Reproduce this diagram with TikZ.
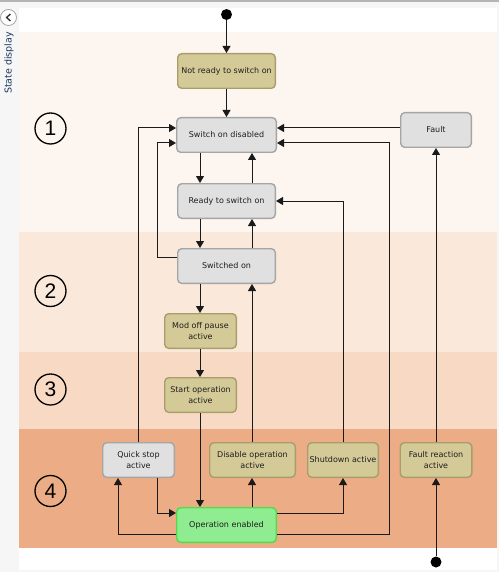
\documentclass[tikz,border=0pt]{standalone}
\usepackage{fontspec}
\setmainfont{DejaVu Sans}
\newfontfamily\digitfont{Liberation Sans}
\usetikzlibrary{arrows.meta,calc}
\definecolor{frameclr}{RGB}{246,246,246}
\definecolor{toplineclr}{RGB}{180,180,180}
\definecolor{zoneA}{RGB}{253,246,240}
\definecolor{zoneB}{RGB}{250,233,219}
\definecolor{zoneC}{RGB}{248,218,196}
\definecolor{zoneD}{RGB}{236,172,133}
\definecolor{grayfill}{RGB}{224,224,224}
\definecolor{grayedge}{RGB}{165,165,165}
\definecolor{khfill}{RGB}{212,202,152}
\definecolor{khedge}{RGB}{168,158,108}
\definecolor{grfill}{RGB}{144,236,144}
\definecolor{gredge}{RGB}{76,222,76}
\definecolor{txtclr}{RGB}{30,30,30}
\definecolor{lineclr}{RGB}{26,26,26}
\definecolor{navy}{RGB}{30,55,95}
\tikzset{
  statebox/.style={rounded corners=4pt, minimum height=34.6pt, inner sep=1pt,
    align=center, font=\fontsize{8}{11.3}\selectfont, text=txtclr, line width=1.4pt},
  graybox/.style={statebox, fill=grayfill, draw=grayedge},
  khakibox/.style={statebox, fill=khfill, draw=khedge},
  greenbox/.style={statebox, fill=grfill, draw=gredge},
  zonenum/.style={circle, draw=black, line width=1.3pt, minimum size=31pt, inner sep=0pt,
    font=\digitfont\fontsize{21}{21}\selectfont},
  blackdot/.style={circle, fill=black, minimum size=11pt, inner sep=0pt},
  arr/.style={draw=lineclr, line width=1pt, -{Triangle[length=7pt,width=8pt]}},
}
\begin{document}
\begin{tikzpicture}[x=1pt,y=-1pt]
\useasboundingbox (0,0) rectangle (499,572);
% frame and zones
\fill[frameclr] (0,0) rectangle (499,572);
\fill[toplineclr] (0,0) rectangle (499,2.5);
\fill[white] (19,8) rectangle (497,570);
\fill[zoneA] (19,32) rectangle (497,232);
\fill[zoneB] (19,232) rectangle (497,352);
\fill[zoneC] (19,352) rectangle (497,429);
\fill[zoneD] (19,429) rectangle (497,548);
% side panel
\node[circle, draw=grayedge, fill=white, line width=0.8pt, minimum size=16pt, inner sep=0pt] (back) at (8.5,17.5) {};
\draw[draw=black!80, line width=1.4pt] ([shift={(1.8,3.5)}]back.center) -- ([shift={(-1.8,0)}]back.center) -- ([shift={(1.8,-3.5)}]back.center);
\node[rotate=90, font=\fontsize{9.5}{10}\selectfont, text=navy, inner sep=0pt] (sd) at (9,63) {State display};
% zone numbers
\node[zonenum] (z1) at (50.5,128.5) {1};
\node[zonenum] (z2) at (50.5,291) {2};
\node[zonenum] (z3) at (50.5,389.5) {3};
\node[zonenum] (z4) at (50.5,491) {4};
% dots
\node[blackdot] (start) at (226.5,14.5) {};
\node[blackdot] (faultdot) at (436,562) {};
% states
\node[khakibox, minimum width=97.6pt] (nr) at (226.5,71) {Not ready to switch on};
\node[graybox, minimum width=99.6pt] (sod) at (226.5,135) {Switch on disabled};
\node[graybox, minimum width=97.6pt] (rtso) at (226.5,201) {Ready to switch on};
\node[graybox, minimum width=97.6pt] (so) at (226.5,266) {Switched on};
\node[khakibox, minimum width=71.6pt] (mop) at (200.5,331) {Mod off pause\\active};
\node[khakibox, minimum width=71.6pt] (soa) at (200.5,395) {Start operation\\active};
\node[graybox, minimum width=70.6pt] (fault) at (436,130) {Fault};
\node[graybox, minimum width=71.6pt] (qs) at (138.5,460) {Quick stop\\active};
\node[khakibox, minimum width=85.6pt] (doa) at (252.5,460) {Disable operation\\active};
\node[khakibox, minimum width=70.6pt] (sa) at (343,460) {Shutdown active};
\node[khakibox, minimum width=71.6pt] (fra) at (436,460) {Fault reaction\\active};
\node[greenbox, minimum width=99.6pt] (oe) at (226.5,525) {Operation enabled};
% helper coordinates
\coordinate (xa) at (200,0);
\coordinate (xb) at (252,0);
\coordinate (xqa) at (118,0);
\coordinate (xqb) at (157,0);
\coordinate (xr) at (389,0);
\coordinate (sodL1) at ([yshift=7pt]sod.west);
\coordinate (sodL2) at ([yshift=-8pt]sod.west);
\coordinate (sodR1) at ([yshift=7pt]sod.east);
\coordinate (sodR2) at ([yshift=-8pt]sod.east);
% connectors
\draw[arr] (start) -- (nr.north);
\draw[arr] (nr.south) -- (sod.north);
\draw[arr] (sod.south -| xa) -- (rtso.north -| xa);
\draw[arr] (rtso.north -| xb) -- (sod.south -| xb);
\draw[arr] (rtso.south -| xa) -- (so.north -| xa);
\draw[arr] (so.north -| xb) -- (rtso.south -| xb);
\draw[arr] ([yshift=9pt]so.west) -| (xqb |- sodL2) -- (sodL2);
\draw[arr] (qs.north) |- (sodL1);
\draw[arr] (so.south -| xa) -- (mop.north -| xa);
\draw[arr] (mop.south -| xa) -- (soa.north -| xa);
\draw[arr] (soa.south -| xa) -- (oe.north -| xa);
\draw[arr] ([yshift=-9pt]oe.west) -| (qs.south -| xqa);
\draw[arr] (qs.south -| xqb) |- ([yshift=12pt]oe.west);
\draw[arr] (oe.north -| xb) -- (doa.south -| xb);
\draw[arr] ([yshift=12pt]oe.east) -| (sa.south);
\draw[arr] ([yshift=-9pt]oe.east) -| (xr |- sodR2) -- (sodR2);
\draw[arr] (fault.west |- sodR1) -- (sodR1);
\draw[arr] (sa.north) |- (rtso.east);
\draw[arr] (doa.north -| xb) -- (so.south -| xb);
\draw[arr] (fra.north) -- (fault.south);
\draw[arr] (faultdot) -- (fra.south);
\end{tikzpicture}
\end{document}
